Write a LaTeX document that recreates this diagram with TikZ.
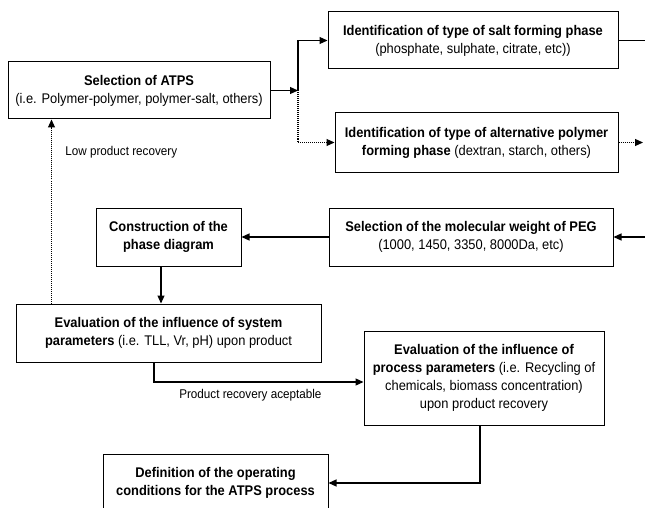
\documentclass[tikz,border=0pt]{standalone}
\usepackage{fontspec}
\setmainfont{Liberation Sans}[FakeStretch=0.92]
\usetikzlibrary{positioning, arrows.meta}

\begin{document}
\begin{tikzpicture}[x=1pt, y=-1pt, node distance=5pt,
  box/.style={draw, line width=1pt, align=center, inner sep=2pt, font=\fontsize{14}{18}\selectfont},
  arr/.style={-{Triangle[length=8pt,width=7pt]}, line width=1.2pt},
  dotline/.style={dash pattern=on 1pt off 1pt},
  lbl/.style={font=\fontsize{12.7}{15}\selectfont}]
  \useasboundingbox (0,0) rectangle (645,508);

  \node[box, minimum width=262pt, minimum height=57pt] (atps) at (139,90.5) {\textbf{Selection of ATPS}\\(i.e. Polymer-polymer, polymer-salt, others)};
  \node[box, minimum width=290pt, minimum height=57pt] (salt) at (473,40.5) {\textbf{Identification of type of salt forming phase}\\(phosphate, sulphate, citrate, etc))};
  \node[box, minimum width=283pt, minimum height=59pt] (alt) at (476.5,142.5) {\textbf{Identification of type of alternative polymer}\\\textbf{forming phase} (dextran, starch, others)};
  \node[box, minimum width=145pt, minimum height=58pt] (phase) at (168.5,237) {\textbf{Construction of the}\\\textbf{phase diagram}};
  \node[box, minimum width=284pt, minimum height=58pt, right=87pt of phase] (peg) {\textbf{Selection of the molecular weight of PEG}\\(1000, 1450, 3350, 8000Da, etc)};
  \node[box, minimum width=305pt, minimum height=58pt, below=37pt of phase] (sysparam) {\textbf{Evaluation of the influence of system}\\\textbf{parameters} (i.e. TLL, Vr, pH) upon product};
  \node[box, minimum width=240pt, minimum height=94pt] (procparam) at (484,378) {\textbf{Evaluation of the influence of}\\\textbf{process parameters} (i.e. Recycling of\\chemicals, biomass concentration)\\upon product recovery};
  \node[box, minimum width=225pt, minimum height=58pt] (opcond) at (215.5,483) {\textbf{Definition of the operating}\\\textbf{conditions for the ATPS process}};

  \coordinate (split) at (298,90.5);
  \coordinate (edge) at (645,0);

  \draw[arr] (atps) -- (split);
  \draw[arr] (split) |- (salt);
  \draw[arr, dotline] (split) |- (alt);
  \draw[line width=1.2pt] (salt) -- (salt -| edge);
  \draw[arr, dotline] (alt) -- ([xshift=-2pt]alt -| edge);
  \draw[arr] (peg -| edge) -- (peg);
  \draw[arr] (peg) -- (phase);
  \draw[arr] ([xshift=-7.5pt]phase.south) -- ([xshift=-7.5pt]phase.south |- sysparam.north);
  \draw[arr, dotline] ([xshift=36pt]sysparam.north west) -- ([xshift=36pt]sysparam.north west |- atps.south) node[lbl, pos=0.82, right=10pt] {Low product recovery};
  \draw[arr] ([xshift=-14.5pt]sysparam.south) |- ([yshift=-4pt]procparam.west) node[lbl, pos=0.73, below=3pt] {Product recovery aceptable};
  \draw[arr] ([xshift=-4pt]procparam.south) |- (opcond);
\end{tikzpicture}
\end{document}
